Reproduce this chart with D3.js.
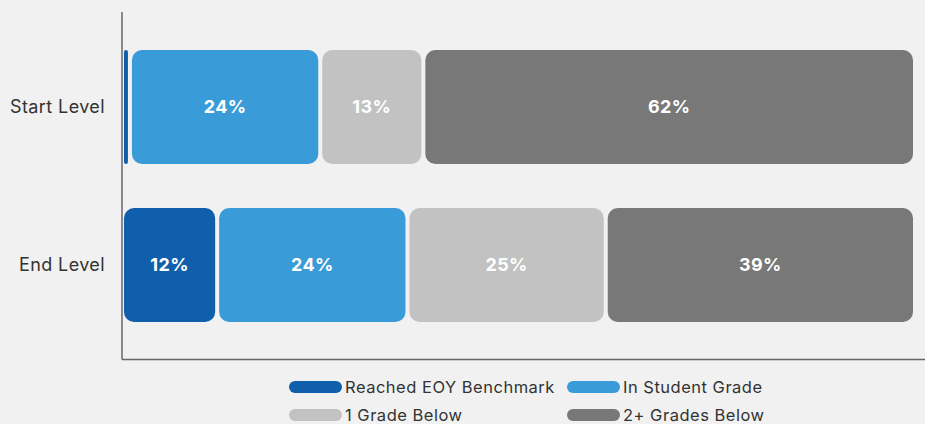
<!DOCTYPE html>
<html>
<head>
<meta charset="utf-8">
<script src="https://cdn.jsdelivr.net/npm/d3@7"></script>
<style>
  body { margin: 0; background: #f0f1f0; }
  svg { display: block; font-family: "Inter", "Noto Sans", sans-serif; }
</style>
</head>
<body>
<div id="chart"></div>
<script>
// chart data
var levels = ["Start Level", "End Level"];
var seriesNames = ["Reached EOY Benchmark", "In Student Grade", "1 Grade Below", "2+ Grades Below"];
var seriesColors = ["#0f5fad", "#3a9bd9", "#c1c2c1", "#777877"];
var reachedEoy = [1, 12];
var inGrade = [24, 24];
var oneBelow = [13, 25];
var twoBelow = [62, 39];

var width = 925, height = 424;

var svg = d3.select("#chart").append("svg")
    .attr("width", width)
    .attr("height", height);

var rows = levels.map(function(l, i) {
  return { level: l, values: [reachedEoy[i], inGrade[i], oneBelow[i], twoBelow[i]] };
});

var xScale = d3.scaleLinear().domain([0, 100]).range([122, 915]);
var yScale = d3.scaleBand().domain(levels).range([50, 322]).paddingInner(0.278).paddingOuter(0);

// axis lines
svg.append("line")
  .attr("x1", 122).attr("x2", 122).attr("y1", 12).attr("y2", 359.5)
  .attr("stroke", "#666").attr("stroke-width", 1.5);
svg.append("line")
  .attr("x1", 122).attr("x2", 925).attr("y1", 359.5).attr("y2", 359.5)
  .attr("stroke", "#666").attr("stroke-width", 1.5);

// category labels
svg.selectAll(".ylab")
  .data(levels)
  .enter().append("text")
  .attr("class", "ylab")
  .attr("x", 105)
  .attr("y", function(d) { return yScale(d) + yScale.bandwidth() / 2; })
  .attr("dy", "0.35em")
  .attr("text-anchor", "end")
  .attr("font-size", 18)
  .attr("letter-spacing", 0.4)
  .attr("fill", "#333")
  .text(function(d) { return d; });

// stacked segments
rows.forEach(function(row) {
  var cum = 0;
  var segs = row.values.map(function(v, j) {
    var s = { v: v, start: cum, j: j };
    cum += v;
    return s;
  });
  var g = svg.append("g");
  g.selectAll("rect")
    .data(segs)
    .enter().append("rect")
    .attr("x", function(d) { return xScale(d.start) + 2; })
    .attr("y", yScale(row.level))
    .attr("width", function(d) { return Math.max(xScale(d.v) - xScale(0) - 4, 3); })
    .attr("height", yScale.bandwidth())
    .attr("rx", function(d) { return Math.min(10, (xScale(d.v) - xScale(0) - 4) / 2); })
    .attr("fill", function(d) { return seriesColors[d.j]; });
  g.selectAll("text")
    .data(segs.filter(function(d) { return d.v >= 5; }))
    .enter().append("text")
    .attr("x", function(d) { return xScale(d.start + d.v / 2); })
    .attr("y", yScale(row.level) + yScale.bandwidth() / 2)
    .attr("dy", "0.35em")
    .attr("text-anchor", "middle")
    .attr("font-size", 18)
    .attr("font-weight", "bold")
    .attr("letter-spacing", 0.4)
    .attr("fill", "#fff")
    .text(function(d) { return d.v + "%"; });
});

// legend
var legendPos = [[289, 387], [567, 387], [289, 415], [567, 415]];
var legend = svg.selectAll(".legend")
  .data(seriesNames)
  .enter().append("g")
  .attr("class", "legend")
  .attr("transform", function(d, i) { return "translate(" + legendPos[i][0] + "," + legendPos[i][1] + ")"; });
legend.append("rect")
  .attr("x", 0).attr("y", -6)
  .attr("width", 53).attr("height", 12)
  .attr("rx", 6)
  .attr("fill", function(d, i) { return seriesColors[i]; });
legend.append("text")
  .attr("x", 56)
  .attr("dy", "0.35em")
  .attr("font-size", 16.5)
  .attr("letter-spacing", 0.5)
  .attr("fill", "#333")
  .text(function(d) { return d; });
</script>
</body>
</html>
